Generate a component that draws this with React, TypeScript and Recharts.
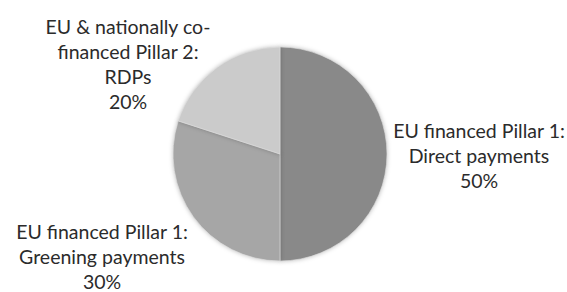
import React from "react";
import { PieChart, Pie, Cell } from "recharts";

const categories: string[][] = [
  ["EU financed Pillar 1:", "Direct payments"],
  ["EU financed Pillar 1:", "Greening payments"],
  ["EU & nationally co-", "financed Pillar 2:", "RDPs"],
];
const shares: number[] = [50, 30, 20];
const colors = ["#898989", "#a6a6a6", "#cbcbcb"];
// label block center offsets relative to pie center (layout)
const labelOffsets = [
  { dx: 199, dy: 1 },
  { dx: -178, dy: 102 },
  { dx: -152, dy: -91 },
];

const data = shares.map((v, i) => ({ name: categories[i].join(" "), value: v, idx: i }));

const LINE = 25;

const renderLabel = (props: any) => {
  const { cx, cy, index, value } = props;
  const lines = [...categories[index], `${value}%`];
  const off = labelOffsets[index];
  const x = cx + off.dx;
  const yc = cy + off.dy;
  const top = yc - ((lines.length - 1) * LINE) / 2;
  return (
    <text
      key={`lbl-${index}`}
      x={x}
      y={top}
      textAnchor="middle"
      dominantBaseline="central"
      fill="#2b2b2b"
      fontFamily="Lato, 'Open Sans', sans-serif"
      fontSize={19.5}
    >
      {lines.map((l, i) => (
        <tspan key={i} x={x} y={top + i * LINE} dominantBaseline="central">
          {l}
        </tspan>
      ))}
    </text>
  );
};

export default function App() {
  return (
    <div style={{ position: "absolute", left: 0, top: 0, background: "#fff" }}>
      <PieChart width={567} height={292} margin={{ top: 0, right: 0, bottom: 0, left: 0 }}>
        <Pie
          data={data}
          dataKey="value"
          cx={280}
          cy={154}
          outerRadius={107}
          startAngle={90}
          endAngle={-270}
          stroke="#e0e0e0"
          strokeWidth={0.6}
          label={renderLabel}
          labelLine={false}
          isAnimationActive={false}
          style={{ filter: "drop-shadow(0px 0px 2px rgba(0,0,0,0.25))" }}
        >
          {data.map((d, i) => (
            <Cell key={i} fill={colors[i]} />
          ))}
        </Pie>
      </PieChart>
    </div>
  );
}
